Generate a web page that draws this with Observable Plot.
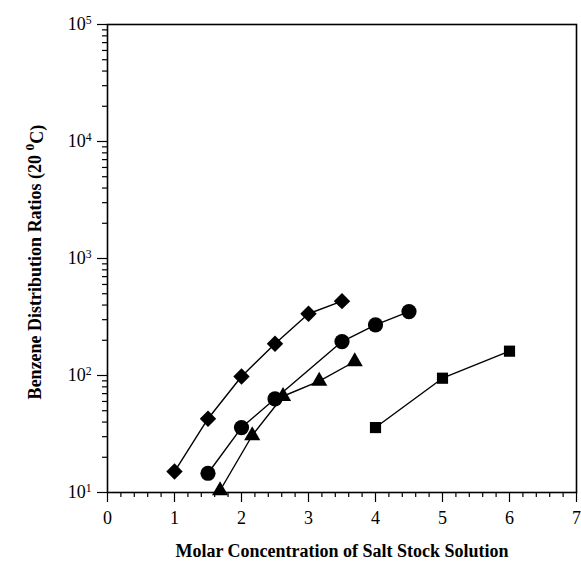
<!DOCTYPE html>
<html><head><meta charset="utf-8">
<script src="https://cdn.jsdelivr.net/npm/d3@7"></script>
<script src="https://cdn.jsdelivr.net/npm/@observablehq/plot@0.6"></script>
<style>body{margin:0;background:#fff}</style>
</head><body><div id="chart"></div>
<script>
const xMajorTicks = [0, 1, 2, 3, 4, 5, 6, 7];
const xMinorTicks = [0.2,0.4,0.6,0.8,1.2,1.4,1.6,1.8,2.2,2.4,2.6,2.8,3.2,3.4,3.6,3.8,4.2,4.4,4.6,4.8,5.2,5.4,5.6,5.8,6.2,6.4,6.6,6.8];
const yMajorTicks = [10, 100, 1000, 10000, 100000];
const yMinorMultipliers = [2, 3, 4, 5, 6, 7, 8, 9];
const yDecades = [10, 100, 1000, 10000];

const diamondX = [1, 1.5, 2, 2.5, 3, 3.5];
const diamondY = [15.1, 42.7, 98, 187, 337, 432];
const circleX = [1.5, 2, 2.5, 3.5, 4, 4.5];
const circleY = [14.6, 35.9, 63.2, 195, 271, 352];
const triangleX = [1.68, 2.16, 2.62, 3.16, 3.69];
const triangleY = [10.4, 30.7, 66.5, 89.4, 131.7];
const squareX = [4, 5, 6];
const squareY = [35.9, 94.8, 161.4];

const xLabel = "Molar Concentration of Salt Stock Solution";
const yLabelMain = "Benzene Distribution Ratios (20 ";
const yLabelSup = "0";
const yLabelEnd = "C)";

const yMinorTicks = yDecades.flatMap(d => yMinorMultipliers.map(m => d * m));
const mk = (xs, ys) => xs.map((x, i) => ({x, y: ys[i]}));
const diamonds = mk(diamondX, diamondY);
const circles = mk(circleX, circleY);
const triangles = mk(triangleX, triangleY);
const squares = mk(squareX, squareY);

const chart = Plot.plot({
  width: 581, height: 564,
  marginLeft: 107, marginRight: 5, marginTop: 24, marginBottom: 72,
  style: {fontFamily: "'Liberation Serif', 'Times New Roman', serif", fontSize: "18px", color: "black", background: "white"},
  x: {domain: [0, 7]},
  y: {type: "log", domain: [10, 100000]},
  marks: [
    Plot.axisX({ticks: xMinorTicks, tickSize: 5, tickFormat: () => "", label: null, strokeWidth: 1.2}),
    Plot.axisX({ticks: xMajorTicks, tickSize: 10, tickPadding: 9, tickFormat: d => String(d), label: null, strokeWidth: 1.2, fontSize: 18}),
    Plot.axisY({ticks: yMinorTicks, tickSize: 5, tickFormat: () => "", label: null, strokeWidth: 1.2}),
    Plot.axisY({ticks: yMajorTicks, tickSize: 10, tickPadding: 6, tickFormat: d => "10^" + Math.round(Math.log10(d)), label: null, strokeWidth: 1.2, fontSize: 18}),
    Plot.line(diamonds, {x: "x", y: "y", stroke: "black", strokeWidth: 1.4}),
    Plot.line(circles, {x: "x", y: "y", stroke: "black", strokeWidth: 1.4}),
    Plot.line(triangles, {x: "x", y: "y", stroke: "black", strokeWidth: 1.4}),
    Plot.line(squares, {x: "x", y: "y", stroke: "black", strokeWidth: 1.4}),
    Plot.dot(diamonds, {x: "x", y: "y", symbol: "diamond2", r: 7.4, fill: "black", stroke: "none"}),
    Plot.dot(circles, {x: "x", y: "y", symbol: "circle", r: 7.6, fill: "black", stroke: "none"}),
    Plot.dot(triangles, {x: "x", y: "y", symbol: "triangle", r: 6, fill: "black", stroke: "none"}),
    Plot.dot(squares, {x: "x", y: "y", symbol: "square", r: 6.3, fill: "black", stroke: "none"}),
    Plot.frame({stroke: "black", strokeWidth: 1.6})
  ]
});
document.getElementById("chart").append(chart);

const svg = d3.select(chart);
svg.selectAll("text").each(function() {
  const m = /^10\^(\d)$/.exec(this.textContent);
  if (m) {
    const s = d3.select(this);
    s.text(null);
    s.append("tspan").text("10");
    s.append("tspan").attr("dy", "-0.5em").attr("font-size", "0.65em").text(m[1]);
  }
});
svg.append("text")
  .attr("x", 342).attr("y", 557)
  .attr("text-anchor", "middle").attr("font-weight", "bold").attr("font-size", 18)
  .attr("fill", "black")
  .text(xLabel);
const yl = svg.append("text")
  .attr("transform", "translate(41,262) rotate(-90)")
  .attr("text-anchor", "middle").attr("font-weight", "bold").attr("font-size", 18)
  .attr("fill", "black");
yl.append("tspan").text(yLabelMain);
yl.append("tspan").attr("dy", "-0.5em").attr("font-size", "0.75em").text(yLabelSup);
yl.append("tspan").attr("dy", "0.5em").text(yLabelEnd);
</script>
</body></html>
